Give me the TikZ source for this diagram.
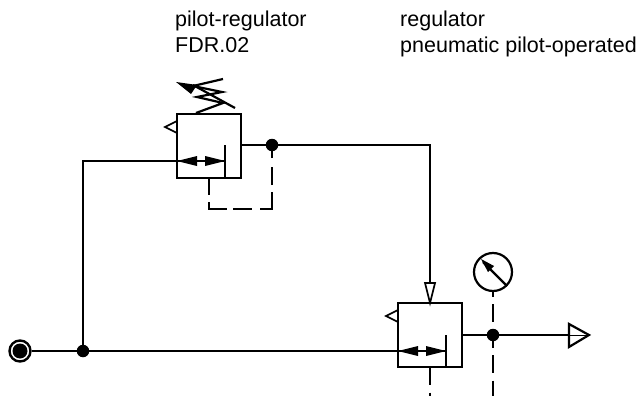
\documentclass[tikz,border=0pt]{standalone}
\usepackage{fontspec}
\setmainfont{Liberation Sans}
\tikzset{
  line/.style={line width=2.2pt,black,line join=miter},
  thinner/.style={line width=1.7pt,black},
  dashline/.style={line width=2.2pt,black,dash pattern=on 18pt off 7.5pt},
  dot/.style={circle,fill=black,inner sep=0pt,minimum size=12.5pt},
  lbl/.style={anchor=base west,inner sep=0pt,font=\fontsize{21.5}{21.5}\selectfont},
}
\begin{document}
\begin{tikzpicture}[x=1pt,y=-1pt]
\useasboundingbox (0,0) rectangle (643,396);
% labels
\node[lbl] (t1) at (175,27) {pilot-regulator};
\node[lbl] (t2) at (175,53) {FDR.02};
\node[lbl] (t3) at (400,27) {regulator};
\node[lbl] (t4) at (400,53) {pneumatic pilot-operated};
% junctions
\node[dot] (j1) at (272,145) {};
\node[dot] (j2) at (83,351) {};
\node[dot] (j3) at (493,335) {};
% source
\node[circle,draw=black,line width=2.4pt,fill=white,minimum size=21pt,inner sep=0pt] (src) at (20,351) {};
\node[circle,fill=black,minimum size=15pt,inner sep=0pt] (srci) at (20,351) {};
% gauge
\node[circle,draw=black,line width=2.2pt,minimum size=38pt,inner sep=0pt] (g) at (493,272) {};
% coordinates
\coordinate (b1) at (209,178);
\coordinate (c1) at (209,209);
\coordinate (c2) at (272,209);
\coordinate (c3) at (430,145);
\coordinate (out) at (590,335);
\coordinate (b2) at (430,367);
\coordinate (e1) at (430,396);
\coordinate (e2) at (493,396);
% main lines
\draw[line] (src) -- (j2) -- (398,351);
\draw[line] (j2) -- (83,161) -- (177,161);
\draw[line] (241,145) -- (j1) -- (c3) -- (430,285);
\draw[line] (462,335) -- (j3) -- (out);
\draw[dashline,dash pattern=on 17pt off 7pt on 25pt off 6pt on 19pt off 8pt on 29pt off 7pt on 18pt off 9pt on 14pt] (b1) -- (c1) -- (c2) -- (j1);
\draw[dashline,dash phase=13.5pt] (g) -- (e2);
\draw[dashline] (b2) -- (e1);
% boxes
\draw[line] (177,114) rectangle (241,178);
\draw[line] (398,303) rectangle (462,367);
\draw[line] (225,145) -- (225,178);
\draw[line] (446,335) -- (446,367);
% vent triangles
\draw[thinner] (177,121) -- (165,127) -- (177,133);
\draw[thinner] (398,310) -- (386,316) -- (398,322);
% double arrows
\foreach \x/\y in {177/161,398/351}{
  \fill (\x,\y) -- (\x+20,\y-5) -- (\x+20,\y+5) -- cycle;
  \fill (\x+48,\y) -- (\x+28,\y-5) -- (\x+28,\y+5) -- cycle;
  \draw[line] (\x,\y) -- (\x+48,\y);
}
% hollow arrow heads
\draw[thinner,fill=white] (430,303) -- (425,283) -- (435,283) -- cycle;
\draw[line,fill=white] (569,324) -- (589,335) -- (569,347) -- cycle;
\draw[line,line width=1pt] (569,335) -- (589,335);
% gauge needle
\draw[line] (507,286) -- (483,262);
\fill (481,259) -- (494,266) -- (488,272) -- cycle;
% spring
\draw[line] (196,113) -- (223,103) -- (197,97) -- (222,92) -- (193,86) -- (223,79);
\draw[line] (235,108) -- (193,85);
\fill (176,82) -- (197,85) -- (191,94) -- cycle;
\end{tikzpicture}
\end{document}
